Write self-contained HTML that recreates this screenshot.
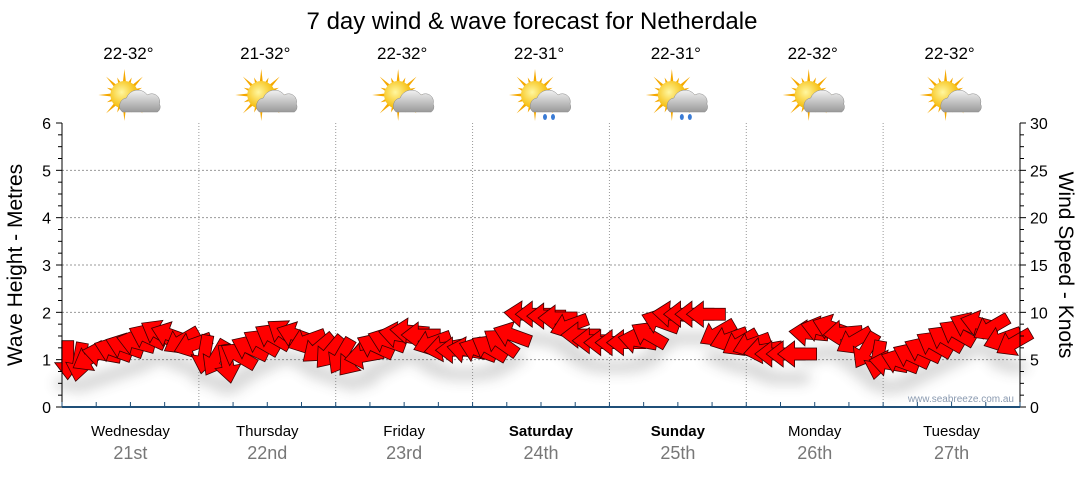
<!DOCTYPE html>
<html><head><meta charset="utf-8"><style>
body{margin:0;background:#fff;}
svg text{font-family:"Liberation Sans","DejaVu Sans",sans-serif;}
</style></head><body>
<svg width="1080" height="475" xmlns="http://www.w3.org/2000/svg" id="chart">
<defs>
<filter id="shadow" x="-20%" y="-50%" width="140%" height="200%"><feGaussianBlur stdDeviation="6"/></filter>
<radialGradient id="sunG" cx="0.4" cy="0.4" r="0.6"><stop offset="0" stop-color="#fff7a0"/><stop offset="1" stop-color="#f5b800"/></radialGradient>
<linearGradient id="cloudG" x1="0" y1="0" x2="0" y2="1"><stop offset="0" stop-color="#f2f2f2"/><stop offset="1" stop-color="#9a9a9a"/></linearGradient>
</defs>
<text x="532" y="29" text-anchor="middle" font-size="24" fill="#000">7 day wind &amp; wave forecast for Netherdale</text>
<g id="grid"></g>
<g id="shadows" filter="url(#shadow)" opacity="0.22"></g>
<g id="arrows"></g>
<g id="axes"></g>
<g id="topG"></g>
<text transform="translate(22,265) rotate(-90)" text-anchor="middle" font-size="21" fill="#000">Wave Height - Metres</text>
<text transform="translate(1059,265) rotate(90)" text-anchor="middle" font-size="21" fill="#000">Wind Speed - Knots</text>
<text x="1014" y="402" text-anchor="end" font-size="10" fill="#8a9ab0">www.seabreeze.com.au</text>
</svg>
<script>
const days=["Wednesday","Thursday","Friday","Saturday","Sunday","Monday","Tuesday"];
const dates=["21st","22nd","23rd","24th","25th","26th","27th"];
const temps=["22-32°","21-32°","22-32°","22-31°","22-31°","22-32°","22-32°"];
const rain=[false,false,false,true,true,false,false];
const boldDays=[false,false,false,true,true,false,false];
const waveTicks=[0,1,2,3,4,5,6];
const windTicks=[0,5,10,15,20,25,30];
const windSpeed=[5.0,4.8,5.2,5.6,6.0,6.4,6.8,7.4,7.8,7.6,7.0,6.6,
5.6,5.2,4.6,5.4,6.2,6.8,7.4,7.8,7.6,7.0,6.2,5.8,
5.4,5.0,5.4,6.4,7.0,7.6,8.0,7.6,6.8,6.2,6.0,6.0,
6.0,6.2,6.8,7.6,9.8,9.8,9.6,9.4,8.6,7.6,7.0,6.8,
6.8,6.8,7.0,7.6,9.0,9.8,9.8,9.8,9.8,7.8,7.2,6.8,
6.6,6.0,5.6,5.6,5.6,7.8,8.2,8.4,7.8,7.0,6.0,5.0,
4.6,4.8,5.4,6.0,6.6,7.2,7.8,8.6,8.8,8.4,7.2,6.8];
const windDir=[90,100,150,190,200,200,195,205,210,200,150,160,
100,120,80,210,205,210,210,215,200,160,140,130,
120,130,170,205,200,190,185,180,160,170,180,190,
200,210,215,200,185,180,180,180,160,180,180,180,
180,180,190,210,200,185,180,180,180,150,160,150,
160,170,180,180,180,185,195,200,175,150,120,100,
190,200,205,205,210,210,210,205,195,150,160,150];
const NS="http://www.w3.org/2000/svg";
const X0=62,X1=1020,Y0=407,Y1=123;
const nHours=7*24;
const xT=h=>X0+(X1-X0)*h/nHours;
const yWave=m=>Y0-(Y0-Y1)*m/6;
const yWind=k=>Y0-(Y0-Y1)*k/30;
function el(t,a,p){const e=document.createElementNS(NS,t);for(const k in a)e.setAttribute(k,a[k]);p.appendChild(e);return e;}
const grid=document.getElementById('grid'),axes=document.getElementById('axes'),topG=document.getElementById('topG');
waveTicks.forEach(v=>{if(v>0&&v<6){const g=el('line',{x1:X0,x2:X1,y1:yWave(v),y2:yWave(v),stroke:'#999','stroke-dasharray':'2,2'},grid);

}});
for(let d=1;d<7;d++){const g=el('line',{x1:xT(d*24),x2:xT(d*24),y1:Y1,y2:Y0,stroke:'#999','stroke-dasharray':'1,2'},grid);

}
el('line',{x1:X0,x2:X0,y1:Y1,y2:Y0,stroke:'#000'},axes);
el('line',{x1:X1,x2:X1,y1:Y1,y2:Y0,stroke:'#000'},axes);
for(let i=0;i<=24;i++){const y=Y0-(Y0-Y1)*i/24;const L=i%4==0?6:4;
el('line',{x1:X0-L,x2:X0,y1:y,y2:y,stroke:'#000'},axes);
el('line',{x1:X1,x2:X1+L,y1:y,y2:y,stroke:'#000'},axes);}
waveTicks.forEach(v=>{const t=el('text',{x:X0-11,y:yWave(v)+6,'text-anchor':'end','font-size':16},axes);t.textContent=v;

});
windTicks.forEach(v=>{const t=el('text',{x:X1+10,y:yWind(v)+6,'font-size':16},axes);t.textContent=v;

});
el('line',{x1:X0,x2:X1,y1:Y0,y2:Y0,stroke:'#1f4f78','stroke-width':2},axes);
for(let h=0;h<=nHours;h+=6){el('line',{x1:xT(h),x2:xT(h),y1:Y0-5,y2:Y0,stroke:'#1f4f78'},axes);}
days.forEach((d,i)=>{const cx=xT(i*24+12);
const t=el('text',{x:cx,y:436,'text-anchor':'middle','font-size':15,'font-weight':boldDays[i]?'bold':'normal'},axes);t.textContent=d;


const t2=el('text',{x:cx,y:459,'text-anchor':'middle','font-size':18,fill:'#777'},axes);t2.textContent=dates[i];


const t3=el('text',{x:cx-2,y:59,'text-anchor':'middle','font-size':17},topG);t3.textContent=temps[i];


const g=el('g',{transform:`translate(${cx-6},95)`},topG);


for(let a=0;a<16;a++){const r=a%2?19:26;const ang=a*Math.PI/8;const s=0.16;
el('polygon',{points:`${Math.cos(ang-s)*11},${Math.sin(ang-s)*11} ${Math.cos(ang)*r},${Math.sin(ang)*r} ${Math.cos(ang+s)*11},${Math.sin(ang+s)*11}`,fill:'#f5a800'},g);}
el('circle',{cx:0,cy:0,r:14,fill:'url(#sunG)'},g);
el('path',{d:'M-2,17 a8,8 0 0 1 4,-14 a12,12 0 0 1 21,-3 a8,8 0 0 1 12,9 a6,6 0 0 1 -2,8 z',fill:'url(#cloudG)',stroke:'#888','stroke-width':0.5},g);
if(rain[i]){el('ellipse',{cx:10,cy:22,rx:2,ry:3,fill:'#3a7bd5'},g);el('ellipse',{cx:18,cy:22,rx:2,ry:3,fill:'#3a7bd5'},g);}
});
const arrows=document.getElementById('arrows'),shadows=document.getElementById('shadows');
const step=nHours/windSpeed.length;
const shape='M-19,-6 L3,-6 L3,-13 L20,0 L3,13 L3,6 L-19,6 Z';
windSpeed.forEach((k,i)=>{const x=xT(i*step+step/2),y=yWind(k);
const s=el('ellipse',{cx:x,cy:y+24,rx:14,ry:7,fill:'#555'},shadows);

});
windSpeed.forEach((k,i)=>{const x=xT(i*step+step/2),y=yWind(k);
const p=el('path',{d:shape,transform:`translate(${x},${y}) rotate(${windDir[i]})`,fill:'#ff0000',stroke:'#3a0000','stroke-width':0.8},arrows);

});
</script>
</body></html>
